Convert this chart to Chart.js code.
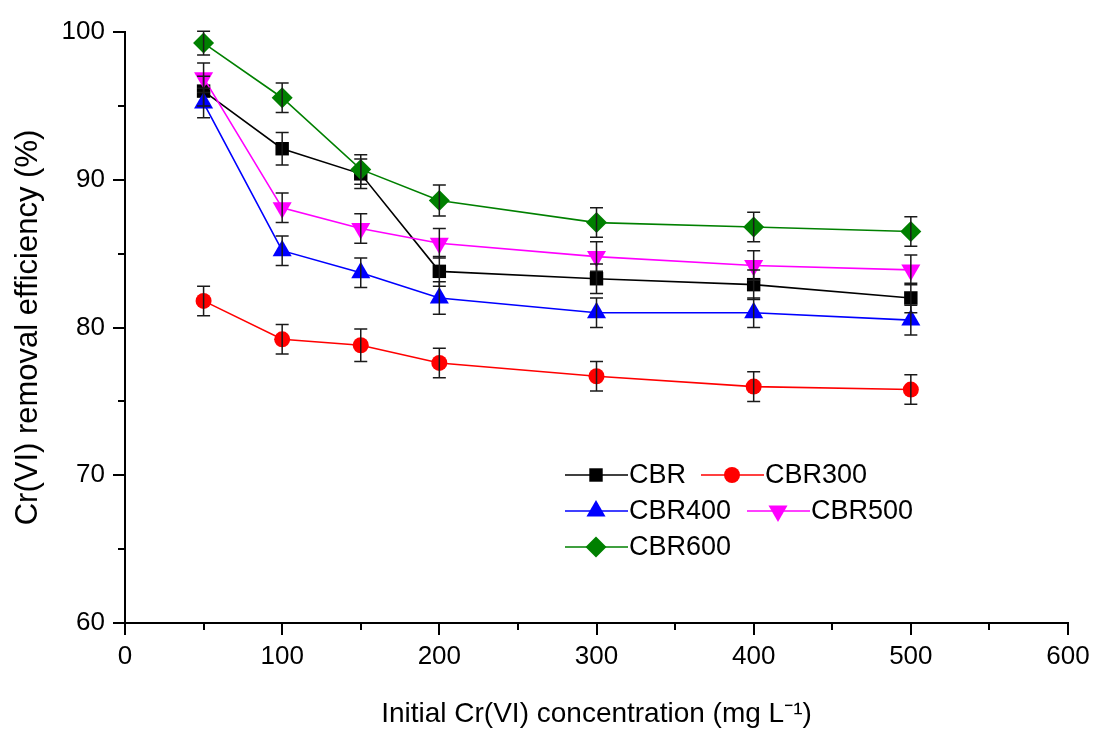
<!DOCTYPE html>
<html>
<head>
<meta charset="utf-8">
<script src="https://cdn.jsdelivr.net/npm/chart.js@4.4.1/dist/chart.umd.min.js"></script>
<style>
  html, body { margin: 0; padding: 0; background: #fff; }
  #wrap { width: 1096px; height: 733px; }
</style>
</head>
<body>
<div id="wrap"><canvas id="c" width="1096" height="733"></canvas></div>
<script>
// ---- data ----
const concentrations = [50, 100, 150, 200, 300, 400, 500];
const seriesNames = ["CBR", "CBR300", "CBR400", "CBR500", "CBR600"];
const cbr     = [96.0, 92.1, 90.4, 83.8, 83.3, 82.9, 82.0];
const cbr300  = [81.8, 79.2, 78.8, 77.6, 76.7, 76.0, 75.8];
const cbr400  = [95.2, 85.2, 83.7, 82.0, 81.0, 81.0, 80.5];
const cbr500  = [96.9, 88.1, 86.7, 85.7, 84.8, 84.2, 83.9];
const cbr600  = [99.25, 95.55, 90.7, 88.6, 87.1, 86.8, 86.5];
const errCbr    = [1.0, 1.1, 1.0, 1.0, 1.0, 1.0, 1.0];
const errCbr300 = [1.0, 1.0, 1.1, 1.0, 1.0, 1.0, 1.0];
const errCbr400 = [1.0, 1.0, 1.0, 1.1, 1.0, 1.0, 1.0];
const errCbr500 = [1.0, 1.0, 1.0, 1.0, 1.0, 1.0, 1.0];
const errCbr600 = [0.8, 1.0, 1.0, 1.05, 1.0, 1.0, 1.0];
const xTicks = [0, 100, 200, 300, 400, 500, 600];
const yTicks = [60, 70, 80, 90, 100];
const xTitle = "Initial Cr(VI) concentration (mg L\u207B\u00B9)";
const yTitle = "Cr(VI) removal efficiency (%)";

const FONT = "'Liberation Sans', Arial, Helvetica, sans-serif";

const values = [cbr, cbr300, cbr400, cbr500, cbr600];
const errors = [errCbr, errCbr300, errCbr400, errCbr500, errCbr600];
const colors = ["#000000", "#ff0000", "#0000ff", "#ff00ff", "#008000"];
const styles = [
  { pointStyle: "rect", radius: 9.5, rotation: 0 },
  { pointStyle: "circle", radius: 8, rotation: 0 },
  { pointStyle: "triangle", radius: 11, rotation: 0 },
  { pointStyle: "triangle", radius: 11, rotation: 180 },
  { pointStyle: "rectRot", radius: 10.5, rotation: 0 }
];
// legend layout: [row, left x of legend line]
const legendSlots = [[0, 565], [0, 701], [1, 565], [1, 747], [2, 565]];

const datasets = seriesNames.map((name, i) => ({
  label: name,
  data: concentrations.map((x, j) => ({ x: x, y: values[i][j] })),
  errors: errors[i],
  borderColor: colors[i],
  backgroundColor: colors[i],
  borderWidth: 1.6,
  pointStyle: styles[i].pointStyle,
  pointRadius: styles[i].radius,
  pointRotation: styles[i].rotation,
  pointBorderWidth: 0,
  pointBackgroundColor: colors[i],
  tension: 0,
  fill: false,
  order: 5 - i
}));

// outward major + minor ticks
const tickPlugin = {
  id: "ticks",
  afterDraw(chart) {
    const ctx = chart.ctx, xs = chart.scales.x, ys = chart.scales.y;
    const a = chart.chartArea;
    ctx.save();
    ctx.strokeStyle = "#000";
    ctx.lineWidth = 2;
    ctx.beginPath();
    for (let v = xs.min; v <= xs.max + 1e-9; v += 50) {
      const px = Math.round(xs.getPixelForValue(v));
      const len = (v % 100 === 0) ? 12 : 7;
      ctx.moveTo(px, a.bottom);
      ctx.lineTo(px, a.bottom + len);
    }
    for (let v = ys.min; v <= ys.max + 1e-9; v += 5) {
      const py = Math.round(ys.getPixelForValue(v));
      const len = (v % 10 === 0) ? 12 : 7;
      ctx.moveTo(a.left, py);
      ctx.lineTo(a.left - len, py);
    }
    ctx.stroke();
    ctx.restore();
  }
};

// error bars
const errorBarPlugin = {
  id: "errorbars",
  afterDatasetsDraw(chart) {
    const ctx = chart.ctx, ys = chart.scales.y, xs = chart.scales.x;
    ctx.save();
    ctx.strokeStyle = "#1a1a1a";
    ctx.lineWidth = 1.5;
    chart.data.datasets.forEach((ds) => {
      ds.data.forEach((p, j) => {
        const e = ds.errors[j];
        const px = xs.getPixelForValue(p.x);
        const top = ys.getPixelForValue(p.y + e);
        const bot = ys.getPixelForValue(p.y - e);
        ctx.beginPath();
        ctx.moveTo(px, top); ctx.lineTo(px, bot);
        ctx.moveTo(px - 6.5, top); ctx.lineTo(px + 6.5, top);
        ctx.moveTo(px - 6.5, bot); ctx.lineTo(px + 6.5, bot);
        ctx.stroke();
      });
    });
    ctx.restore();
  }
};

function drawMarker(ctx, st, x, y) {
  if (Chart.helpers && Chart.helpers.drawPoint) {
    Chart.helpers.drawPoint(ctx, { pointStyle: st.pointStyle, radius: st.radius, rotation: st.rotation, borderWidth: 0 }, x, y);
  } else {
    ctx.beginPath(); ctx.arc(x, y, st.radius, 0, Math.PI * 2); ctx.fill();
  }
}

// legend inside plot area
const legendPlugin = {
  id: "innerLegend",
  afterDraw(chart) {
    const ctx = chart.ctx;
    const rowY = [475, 511, 547];
    ctx.save();
    ctx.font = "27px " + FONT;
    ctx.textBaseline = "middle";
    ctx.textAlign = "left";
    chart.data.datasets.forEach((ds, i) => {
      const [row, L] = legendSlots[i];
      const y = rowY[row];
      ctx.strokeStyle = ds.borderColor;
      ctx.fillStyle = ds.borderColor;
      ctx.lineWidth = 1.6;
      ctx.beginPath();
      ctx.moveTo(L, y); ctx.lineTo(L + 63, y);
      ctx.stroke();
      drawMarker(ctx, styles[i], L + 31, y);
      ctx.fillStyle = "#000";
      ctx.fillText(ds.label, L + 64, y + 1);
    });
    ctx.restore();
  }
};

new Chart(document.getElementById("c"), {
  type: "line",
  data: { datasets: datasets },
  plugins: [errorBarPlugin, tickPlugin, legendPlugin],
  options: {
    responsive: false,
    devicePixelRatio: 1,
    animation: false,
    layout: { padding: { left: 0, top: 32, right: 28, bottom: 0 } },
    plugins: { legend: { display: false }, tooltip: { enabled: false } },
    scales: {
      x: {
        type: "linear",
        min: 0, max: 600,
        afterBuildTicks(s) { s.ticks = xTicks.map(v => ({ value: v })); },
        afterFit(s) { s.height = 110; s.paddingLeft = 0; s.paddingRight = 0; },
        grid: { display: false, drawTicks: false },
        border: { display: true, color: "#000", width: 2 },
        ticks: { color: "#000", font: { family: FONT, size: 26 }, padding: 18, maxRotation: 0 },
        title: { display: true, text: xTitle, color: "#000", font: { family: FONT, size: 28 }, padding: { top: 0, bottom: 2 } }
      },
      y: {
        type: "linear",
        min: 60, max: 100,
        afterBuildTicks(s) { s.ticks = yTicks.map(v => ({ value: v })); },
        afterFit(s) { s.width = 125; s.paddingTop = 0; s.paddingBottom = 0; },
        grid: { display: false, drawTicks: false },
        border: { display: true, color: "#000", width: 2 },
        ticks: { color: "#000", font: { family: FONT, size: 26 }, padding: 20 },
        title: { display: true, text: yTitle, color: "#000", font: { family: FONT, size: 31 }, padding: { top: 10, bottom: 0 } }
      }
    }
  }
});
</script>
</body>
</html>
